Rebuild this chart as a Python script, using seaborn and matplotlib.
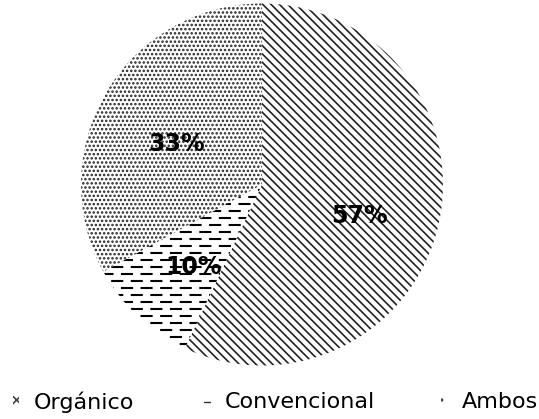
import matplotlib
matplotlib.use("Agg")
import matplotlib.pyplot as plt
from matplotlib.patches import Patch
from matplotlib.lines import Line2D
from matplotlib.collections import LineCollection
import numpy as np
import seaborn as sns

categorias = ["Orgánico", "Convencional", "Ambos"]
porcentajes = [57, 10, 33]
tramas = ["\\\\\\\\", None, "...."]

sns.set_theme(style="white")
plt.rcParams["font.family"] = ["DejaVu Sans"]
plt.rcParams["hatch.linewidth"] = 1.2

W, H, DPI = 539, 419, 100
fig = plt.figure(figsize=(W / DPI, H / DPI), dpi=DPI)
fig.patch.set_facecolor("white")

cx, cy, r = 262, 184.5, 181
ax = fig.add_axes([(cx - r) / W, 1 - (cy + r) / H, 2 * r / W, 2 * r / H])
ax.set_facecolor("white")

wedges, _, autotexts = ax.pie(
    porcentajes,
    startangle=90,
    counterclock=False,
    colors=["white"] * 3,
    autopct="%1.0f%%",
    pctdistance=0.55,
    wedgeprops=dict(edgecolor="#222222", linewidth=0),
    textprops=dict(fontsize=17, fontweight="bold", color="black"),
)
for w, h in zip(wedges, tramas):
    if h:
        w.set_hatch(h)
for t in autotexts:
    x, y = t.get_position()
    t.set_position((x, y - 0.055))
    t.set_zorder(5)

# dashed horizontal fill for the "Convencional" wedge
paso = 7 / r
filas = np.arange(-1.0, 1.0 + paso, paso)
for i, yy in enumerate(filas):
    estilo = (0 if i % 2 == 0 else 4.7, (5.8, 3.6))
    lc = LineCollection([[(-1.05, yy), (1.05, yy)]], colors="black",
                        linewidths=1.5, linestyles=[estilo], zorder=3)
    lc.set_clip_path(wedges[1])
    ax.add_collection(lc)

ax.set_xlim(-1, 1)
ax.set_ylim(-1, 1)
ax.axis("off")

# legend entries placed individually along the bottom
marcas = [
    Patch(facecolor="white", edgecolor="#444444", linewidth=0, hatch="xx"),
    Line2D([], [], color="#333333", linewidth=1.0),
    Patch(facecolor="white", edgecolor="#444444", linewidth=0, hatch=".."),
]
ley_y = 1 - 402 / H
ley_x = [13, 204, 441]
for nombre, handle, xx in zip(categorias, marcas, ley_x):
    fig.legend([handle], [nombre], loc="center left",
               bbox_to_anchor=(xx / W, ley_y), frameon=False,
               fontsize=16, handlelength=0.25, handleheight=0.25,
               handletextpad=0.7, borderpad=0, borderaxespad=0,
               labelcolor="black")

fig.savefig("out.png", dpi=DPI, facecolor="white")
